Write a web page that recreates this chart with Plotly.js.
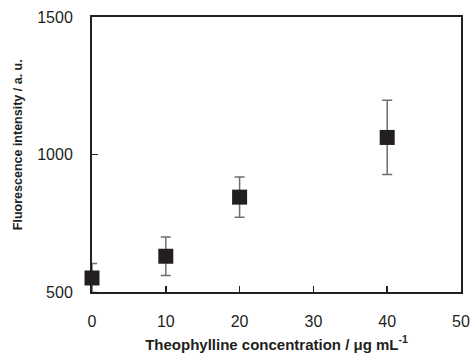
<!DOCTYPE html>
<html>
<head>
<meta charset="utf-8">
<script src="https://cdn.plot.ly/plotly-3.0.1.min.js"></script>
<style>html,body{margin:0;padding:0;background:#fff;}#chart{width:473px;height:356px;}</style>
</head>
<body>
<div id="chart"></div>
<script>
var concentration = [0, 10, 20, 40];
var intensity = [551, 630, 845, 1062];
var errorSD = [53, 70, 73, 135];
var xTicks = [0, 10, 20, 30, 40, 50];
var yTicks = [500, 1000, 1500];

var trace = {
  x: concentration,
  y: intensity,
  mode: 'markers',
  type: 'scatter',
  marker: {symbol: 'square', size: 15, color: '#231f20'},
  error_y: {type: 'data', array: errorSD, visible: true, color: '#6e6e6e', thickness: 1.5, width: 5},
  cliponaxis: false,
  showlegend: false
};

var layout = {
  width: 473, height: 356,
  margin: {l: 92, r: 12, t: 16.5, b: 64},
  paper_bgcolor: '#fff', plot_bgcolor: '#fff',
  font: {family: 'Liberation Sans, Arial, sans-serif', color: '#231f20'},
  xaxis: {
    range: [0, 50], tickvals: xTicks, ticktext: xTicks.map(String),
    ticks: 'inside', ticklen: 6, tickwidth: 1.5, tickcolor: '#231f20',
    showline: true, linecolor: '#231f20', linewidth: 2, mirror: true,
    showgrid: false, zeroline: false,
    tickfont: {size: 16, color: '#231f20'}, ticklabelstandoff: 14,
    title: {text: '<b>Theophylline concentration / μg mL<sup>-1</sup></b>', font: {size: 15}, standoff: 10}
  },
  yaxis: {
    range: [500, 1500], tickvals: yTicks, ticktext: yTicks.map(String),
    ticks: 'inside', ticklen: 6, tickwidth: 1.5, tickcolor: '#231f20',
    showline: true, linecolor: '#231f20', linewidth: 2, mirror: true,
    showgrid: false, zeroline: false,
    tickfont: {size: 16, color: '#231f20'}, ticklabelstandoff: 14
  },
  annotations: [{
    text: '<b>Fluorescence intensity / a. u.</b>',
    xref: 'paper', yref: 'paper', x: -0.2005, y: 0.534,
    xanchor: 'center', yanchor: 'middle', textangle: -90,
    showarrow: false, font: {size: 12.5, color: '#231f20'}
  }]
};

Plotly.newPlot('chart', [trace], layout, {displayModeBar: false, staticPlot: true});
</script>
</body>
</html>
